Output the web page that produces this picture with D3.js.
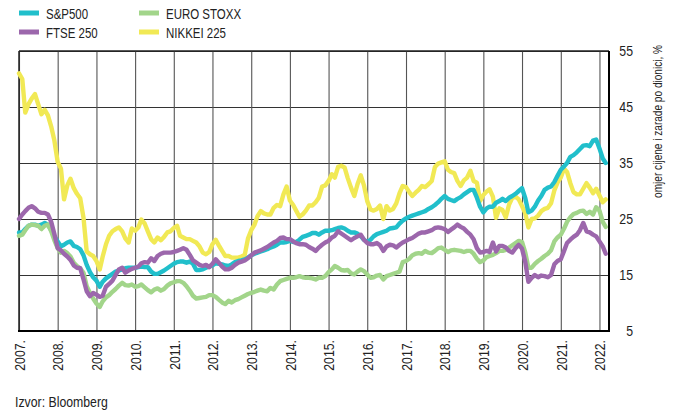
<!DOCTYPE html>
<html>
<head>
<meta charset="utf-8">
<script src="https://cdn.jsdelivr.net/npm/d3@7"></script>
<style>
  body { margin: 0; background: #fff; }
  svg { display: block; font-family: "Liberation Sans", Arial, sans-serif; }
  .grid line { shape-rendering: crispEdges; }
</style>
</head>
<body>
<svg width="675" height="412"></svg>
<script>
// monthly P/E values, Jan 2007 - Mar 2022
const seriesNames = ["S&P500", "FTSE 250", "EURO STOXX", "NIKKEI 225"];
const yTicks = [5, 15, 25, 35, 45, 55];

const sp500 = [
  22.6, 22.6, 23.2, 23.8, 24, 24, 23.8, 24, 24.3, 24, 23, 21.9,
  21, 20.1, 20.4, 20.8, 21, 20.2, 20, 19.6, 18.5, 16.8, 15.5, 14.6,
  14, 12.9, 13.8, 14.4, 14.8, 15.2, 15.6, 15.8, 16, 16.2, 16.3, 16.3,
  16.3, 16.4, 16.5, 16.4, 16.4, 15.6, 15.2, 15.2, 15.5, 15.8, 16.2, 16.6,
  17, 17.3, 17.4, 17.4, 17.2, 17.4, 17, 15.9, 15.9, 16, 16.3, 16.5,
  16.7, 17.1, 17, 16.9, 16.7, 16.6, 16.9, 17.3, 17.5, 17.6, 17.8, 18.1,
  18.5, 18.8, 19, 19.2, 19.4, 19.6, 19.9, 20.1, 20.4, 20.8, 20.8, 20.9,
  21.1, 20.9, 20.9, 21.3, 21.8, 22, 22.2, 22.5, 22.5, 22.2, 22.6, 22.9,
  22.9, 23, 23.2, 23.4, 23.5, 23.3, 22.9, 22.6, 22.6, 22.4, 21.9, 21.3,
  20.9, 21.3, 21.9, 22.3, 22.5, 22.7, 22.9, 23.3, 23.4, 23.5, 24.2, 24.7,
  25.1, 25.4, 25.6, 25.8, 26, 26.2, 26.4, 26.8, 27.1, 27.5, 28, 28.6,
  29.1, 28.6, 28.4, 28.2, 28.6, 28.9, 29.4, 29.8, 30.2, 30.2, 28.8, 27.2,
  26.2, 26.9, 27.2, 27.2, 27.9, 28.2, 28.6, 28.2, 28.8, 29.1, 29.5, 30,
  30.5, 28.7, 26.2, 26.5, 27.2, 28.3, 29.1, 30.2, 30.6, 30.8, 31.6, 32.7,
  33.8, 34.4, 35, 36.1, 36.4, 36.9, 37.5, 38.1, 38.2, 38, 39, 39.2,
  37.6, 35.8, 35
];

const ftse250 = [
  25, 25.8, 26.4, 27, 27.3, 26.9, 26.3, 26.1, 26.1, 25.8, 24.5, 22.3,
  19.8, 19.4, 18.8, 18.3, 17.7, 16.7, 16.3, 16.2, 14.2, 12.1, 11.2, 11.8,
  11.5, 11.1, 11.3, 12.9, 13.4, 14, 15, 16, 16.3, 15.4, 15.8, 16.1,
  16.3, 16.5, 17.1, 17.3, 17.2, 18, 17.5, 18.4, 18.8, 19, 19, 19,
  19.1, 19.3, 19.5, 19.8, 19.5, 18.6, 17.6, 17.2, 16.8, 16.6, 16.8, 16.4,
  17, 17.8, 17.2, 16.5, 16, 16, 16.3, 16.8, 17.2, 17.4, 17.6, 18,
  18.5, 19, 19.2, 19.4, 19.7, 20, 20.4, 20.8, 21.1, 21.6, 21.7, 21.4,
  21.4, 21, 20.7, 20.5, 20.5, 20.4, 20, 19.7, 19.3, 19.9, 20.4, 20.8,
  21.1, 21.7, 22, 22.8, 22.4, 22, 21.6, 21.2, 21.6, 21.9, 22.2, 21.3,
  20.7, 20.5, 20.5, 20.7, 20.3, 19.3, 20.1, 20.4, 20.3, 19.9, 20.4, 20.8,
  21.1, 21.4, 21.6, 22, 22.4, 22.6, 22.6, 22.8, 23, 23.4, 23.5, 23.4,
  23.2, 22.7, 23.1, 23.5, 24, 23.6, 23.3, 22.7, 22.2, 21.4, 19.8, 19,
  19.1, 19.3, 19.1, 20.8, 19.2, 20.2, 20.2, 19.9, 19.3, 19, 19.8, 20.4,
  19.7, 17.3, 13.8, 14.5, 15, 14.6, 14.9, 14.8, 14.6, 15, 16.9, 17.5,
  17.8, 19.3, 20.7, 21.3, 21.8, 22.2, 23, 24.3, 22.8, 22.6, 22.2, 21.9,
  21, 20.1, 18.8
];

const euroStoxx = [
  22, 22.2, 23, 23.8, 24, 23.9, 23.8, 23.2, 23.8, 24, 22.8, 21.2,
  19.8, 19, 19.3, 18.9, 18.3, 17.2, 16.6, 16.2, 15.4, 13, 11.8, 10.8,
  9.9, 9.3, 10.3, 11, 11.4, 12, 12.5, 13.1, 13.6, 13.2, 13.1, 13.3,
  12.9, 13, 13.3, 12.8, 12.3, 11.9, 12.4, 12.6, 12.2, 12.5, 13.1, 13.5,
  13.7, 13.9, 13.9, 13.6, 13, 12.2, 11.3, 10.8, 10.9, 11, 11.1, 11.4,
  11.4, 11.1, 10.6, 10.1, 9.8, 10.4, 10.1, 10.5, 10.7, 11, 11.3, 11.6,
  11.8, 12, 12.2, 12.4, 12.2, 12.1, 12.7, 12.4, 13.3, 13.9, 14.1, 14.3,
  14.5, 14.5, 14.6, 14.8, 14.6, 14.5, 14.5, 14.4, 14.2, 14.5, 14.5, 14.8,
  15.5, 16, 16.6, 16.3, 15.9, 15.8, 15.9, 15.3, 15.1, 15.6, 16, 15.7,
  15.1, 14.5, 14.6, 14.9, 15, 14.2, 14.8, 15, 15.2, 15.4, 15.6, 17.3,
  17.5, 17.9, 18.5, 18.8, 18.9, 18.8, 19.3, 19, 18.9, 19.3, 19.8, 19.9,
  19.5, 19.1, 19.4, 19.5, 19.4, 19.3, 19.1, 19.3, 19.3, 18.8, 17.9, 17.3,
  17.6, 18.2, 18.4, 18.6, 18.9, 19.3, 19.3, 19.5, 19.9, 20.3, 20.7, 21.1,
  20.9, 19, 16.3, 16.3, 17, 17.5, 17.9, 18.4, 18.8, 19.4, 21, 21.7,
  22.2, 23.3, 24.5, 25.3, 25.9, 26.1, 26.4, 26.5, 25.9, 26.3, 25.8, 27.1,
  26.5, 24.5, 23.6
];

const nikkei225 = [
  51, 50, 44, 45.5, 46.5, 47.3, 45.5, 43.7, 44.5, 43.5, 41.5, 39,
  35.2, 34, 28.5, 31, 32.2, 30.5, 29.5, 28.7, 25.2, 19.2, 18.7, 18.4,
  17.5, 16, 18.3, 20.5, 22, 22.8, 23.2, 23.5, 22.8, 21.5, 20.8, 23.3,
  22.9, 23.5, 24.9, 24.2, 22.8, 21.4, 20.8, 21.7, 21.2, 21.8, 22.6, 22.8,
  23.4, 23.8, 22, 21.7, 21.4, 21.4, 21.1, 20.8, 20.1, 19, 18.7, 19.1,
  20.5, 21.3, 20.3, 19.3, 18.4, 18.4, 18.1, 18.1, 18.1, 18.3, 18.6, 21.5,
  23, 24, 25.5, 26.4, 26, 25.8, 25.8, 27, 27.5, 27.3, 29.4, 30.8,
  28.3, 27.5, 26.5, 25.4, 25.8, 26.5, 27.4, 27.4, 28, 28.8, 30.8, 31,
  31.8, 33, 32.4, 34.3, 34.5, 34.2, 32.3, 30.6, 29.1, 31.2, 32.8, 31,
  28.2, 26.7, 26.5, 26.8, 27.4, 25, 27.3, 26.5, 26.8, 27.8, 29.6, 30.9,
  30.7, 29.8, 29.1, 29.7, 30.2, 30.9, 30.7, 31.2, 31.8, 34.3, 34.9, 35.1,
  35.3, 33.8, 33.4, 33.2, 31.8, 30.9, 31.9, 32.4, 33.6, 31.8, 31.5, 28.2,
  29.3, 29.9, 30.3, 29, 25.2, 26.9, 26.6, 25.3, 27.6, 28.8, 29, 28.5,
  27.3, 26, 23.5, 25, 25.1, 25.6, 26.4, 26.8, 27, 27.8, 30.1, 31.5,
  32.4, 34, 33.4, 31.4, 29.8, 29.4, 29.4, 30.4, 31.4, 30.6, 29.6, 30.4,
  29.2, 28, 28.5
];

const months = d3.timeMonth.range(new Date(2007, 0, 1), new Date(2022, 3, 1));

const colors = {
  "S&P500": "#21bfcb",
  "FTSE 250": "#9c67ac",
  "EURO STOXX": "#a2d58a",
  "NIKKEI 225": "#f1e955"
};
const valuesByName = {
  "S&P500": sp500,
  "FTSE 250": ftse250,
  "EURO STOXX": euroStoxx,
  "NIKKEI 225": nikkei225
};

// narrow look: squeeze Liberation Sans horizontally
const narrow = "scale(0.82,1)";

const svg = d3.select("svg");
const plotLeft = 19, plotRight = 609, plotTop = 51, plotBottom = 331;

const x = d3.scaleTime()
  .domain([new Date(2007, 0, 1), new Date(2022, 3, 1)])
  .range([plotLeft, plotRight]);

const y = d3.scaleLinear()
  .domain([5, 55])
  .range([plotBottom, plotTop]);

// horizontal grid
svg.append("g")
  .attr("class", "grid")
  .selectAll("line")
  .data(yTicks.filter(d => d > 5))
  .enter()
  .append("line")
  .attr("x1", plotLeft)
  .attr("x2", plotRight)
  .attr("y1", d => y(d))
  .attr("y2", d => y(d))
  .attr("stroke", "#333")
  .attr("stroke-width", 1);

// x axis with year gridlines
const xAxis = svg.append("g")
  .attr("transform", `translate(0, ${plotBottom})`)
  .call(d3.axisBottom(x)
    .ticks(d3.timeYear.every(1))
    .tickFormat(d => d.getFullYear() + ".")
    .tickSize(-(plotBottom - plotTop)));

xAxis.select(".domain").remove();
xAxis.selectAll(".tick line")
  .attr("stroke", "#555")
  .attr("stroke-width", 1.1);
xAxis.selectAll(".tick text")
  .attr("transform", `rotate(-90) translate(-9, 0) ${narrow}`)
  .attr("x", 0)
  .attr("y", 0)
  .attr("dy", "0.35em")
  .attr("text-anchor", "end")
  .attr("font-family", null)
  .attr("font-size", 15)
  .attr("fill", "#222");

// frame
svg.append("line")
  .attr("x1", plotLeft).attr("x2", plotRight)
  .attr("y1", plotTop).attr("y2", plotTop)
  .attr("stroke", "#222").attr("stroke-width", 1.5);
svg.append("line")
  .attr("x1", plotLeft).attr("x2", plotLeft)
  .attr("y1", plotTop).attr("y2", plotBottom)
  .attr("stroke", "#222").attr("stroke-width", 1.5);

// series lines
const line = d3.line()
  .x((d, i) => x(months[i]))
  .y(d => y(d));

const drawOrder = ["NIKKEI 225", "S&P500", "EURO STOXX", "FTSE 250"];

svg.append("g")
  .selectAll("path")
  .data(drawOrder)
  .enter()
  .append("path")
  .attr("d", d => line(valuesByName[d]))
  .attr("fill", "none")
  .attr("stroke", d => colors[d])
  .attr("stroke-width", 4.4)
  .attr("stroke-linejoin", "round")
  .attr("stroke-linecap", "round");

// right and bottom borders
svg.append("line")
  .attr("x1", plotRight).attr("x2", plotRight)
  .attr("y1", plotTop).attr("y2", plotBottom + 1)
  .attr("stroke", "#000").attr("stroke-width", 2);
svg.append("line")
  .attr("x1", plotLeft - 1).attr("x2", plotRight + 1)
  .attr("y1", plotBottom).attr("y2", plotBottom)
  .attr("stroke", "#000").attr("stroke-width", 2);

// y axis labels on right
const yAxis = svg.append("g")
  .attr("transform", `translate(${plotRight}, 0)`)
  .call(d3.axisRight(y).tickValues(yTicks).tickSize(0));
yAxis.select(".domain").remove();
yAxis.selectAll(".tick text")
  .attr("x", 0)
  .attr("transform", `translate(24, 0) ${narrow}`)
  .attr("text-anchor", "end")
  .attr("font-family", null)
  .attr("font-size", 15)
  .attr("fill", "#222");

svg.append("text")
  .attr("transform", `translate(658, 45) rotate(-90) ${narrow}`)
  .attr("text-anchor", "end")
  .attr("dy", "0.35em")
  .attr("font-size", 12.3)
  .attr("fill", "#222")
  .text("omjer cijene i zarade po dionici, %");

// legend
const legend = svg.append("g")
  .selectAll("g")
  .data(seriesNames)
  .enter()
  .append("g")
  .attr("transform", (d, i) => {
    const lx = Math.floor(i / 2) * 120 + 19;
    const ly = (i % 2) * 19 + 13;
    return `translate(${lx}, ${ly})`;
  });

legend.append("line")
  .attr("x1", 0).attr("x2", 20)
  .attr("y1", 0).attr("y2", 0)
  .attr("stroke", d => colors[d])
  .attr("stroke-width", 5);

legend.append("text")
  .attr("transform", `translate(27, 5.5) ${narrow}`)
  .attr("font-size", 14)
  .attr("fill", "#222")
  .text(d => d);

svg.append("text")
  .attr("transform", `translate(15, 407) ${narrow}`)
  .attr("font-size", 15)
  .attr("fill", "#222")
  .text("Izvor: Bloomberg");
</script>
</body>
</html>
